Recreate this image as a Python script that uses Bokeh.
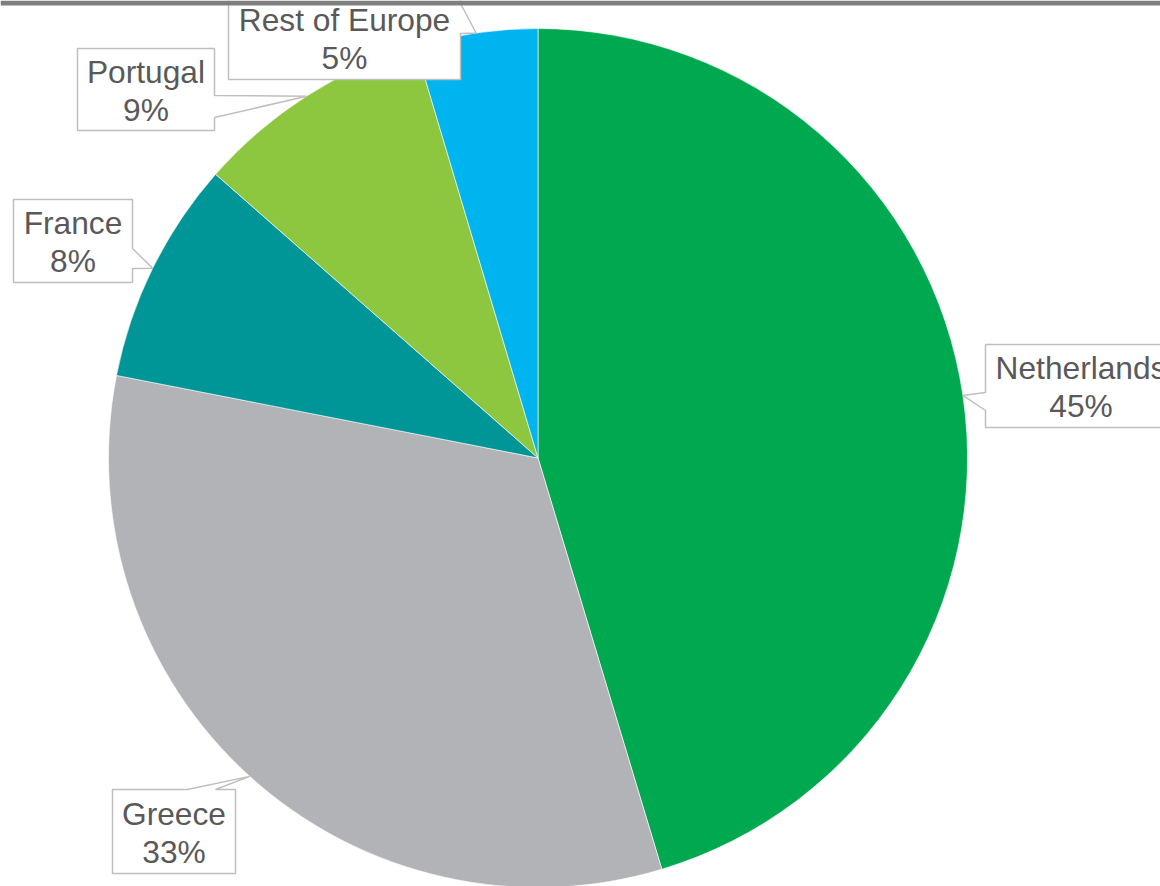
import math
from bokeh.plotting import figure
from bokeh.models import Range1d, ColumnDataSource
from bokeh.core.properties import value
from bokeh.embed import file_html
from bokeh.resources import INLINE

# ---- data ----
categories = ["Netherlands", "Greece", "France", "Portugal", "Rest of Europe"]
shares = [45.3, 32.7, 8.4, 8.9, 4.6]
colors = ["#00A94F", "#B1B3B6", "#009596", "#8DC63F", "#00B4EF"]

# ---- layout (image pixel coords, y down) ----
W, H = 1160, 886
PCX, PCY, R = 537.5, 457.5, 429.5
# callout boxes: x0, x1, y0, y1, side of pointer, pointer base start, end
boxes = {
    "Netherlands": (985, 1176, 344, 427, "left", 392, 410),
    "Greece": (112, 235, 789, 873, "top", 187, 215),
    "France": (13, 132, 199, 282, "right", 248, 268),
    "Portugal": (77, 214, 48, 130, "right", 95, 117),
    "Rest of Europe": (228, 460, -4, 79, "right", 3, 33),
}
TEXT_COLOR = "#595959"
FONT = value("Liberation Sans")
FS = "31.7px"


def fy(y):
    return H - y


total = sum(shares)
starts, ends, mids = [], [], []
cum = 0.0
for s in shares:
    a0 = cum / total
    cum += s
    a1 = cum / total
    starts.append(math.pi / 2 - a1 * 2 * math.pi)
    ends.append(math.pi / 2 - a0 * 2 * math.pi)
    mids.append((a0 + a1) / 2 * 2 * math.pi)

p = figure(width=W, height=H, x_range=Range1d(0, W), y_range=Range1d(0, H),
           output_backend="svg", toolbar_location=None, min_border=0)
p.axis.visible = False
p.xgrid.visible = False
p.ygrid.visible = False
p.outline_line_color = None
p.background_fill_color = "white"
p.border_fill_color = "white"

src = ColumnDataSource(dict(cat=categories, start=starts, end=ends, color=colors))
p.wedge(x=PCX, y=fy(PCY), radius=R, start_angle="start", end_angle="end",
        fill_color="color", line_color="white", line_width=0.6, source=src)

xs_list, ys_list = [], []
tx, ty1, ty2, t1, t2 = [], [], [], [], []
for cat, s, th in zip(categories, shares, mids):
    x0, x1, y0, y1, side, b0, b1 = boxes[cat]
    tipx = PCX + R * math.sin(th)
    tipy = PCY - R * math.cos(th)
    if side == "left":
        pts = [(x0, y0), (x1, y0), (x1, y1), (x0, y1), (x0, b1), (tipx, tipy), (x0, b0)]
    elif side == "right":
        pts = [(x0, y0), (x1, y0), (x1, b0), (tipx, tipy), (x1, b1), (x1, y1), (x0, y1)]
    else:  # top
        pts = [(x0, y0), (b0, y0), (tipx, tipy), (b1, y0), (x1, y0), (x1, y1), (x0, y1)]
    xs_list.append([q[0] for q in pts])
    ys_list.append([fy(q[1]) for q in pts])
    cx = (x0 + x1) / 2
    cy = (y0 + y1) / 2
    tx.append(cx)
    ty1.append(fy(cy - 18))
    ty2.append(fy(cy + 20))
    t1.append(cat)
    t2.append(f"{round(s)}%")

p.patches(xs=xs_list, ys=ys_list, fill_color="white", line_color="#BFBFBF", line_width=1.5)
p.text(x=tx, y=ty1, text=t1, text_align="center", text_baseline="alphabetic",
       text_font=FONT, text_font_size=FS, text_color=TEXT_COLOR)
p.text(x=tx, y=ty2, text=t2, text_align="center", text_baseline="alphabetic",
       text_font=FONT, text_font_size=FS, text_color=TEXT_COLOR)

# top grey rule
p.quad(left=0, right=W, bottom=fy(5), top=H, fill_color="#7F7F7F", line_color=None)

open("out.html", "w").write(file_html(p, INLINE))
